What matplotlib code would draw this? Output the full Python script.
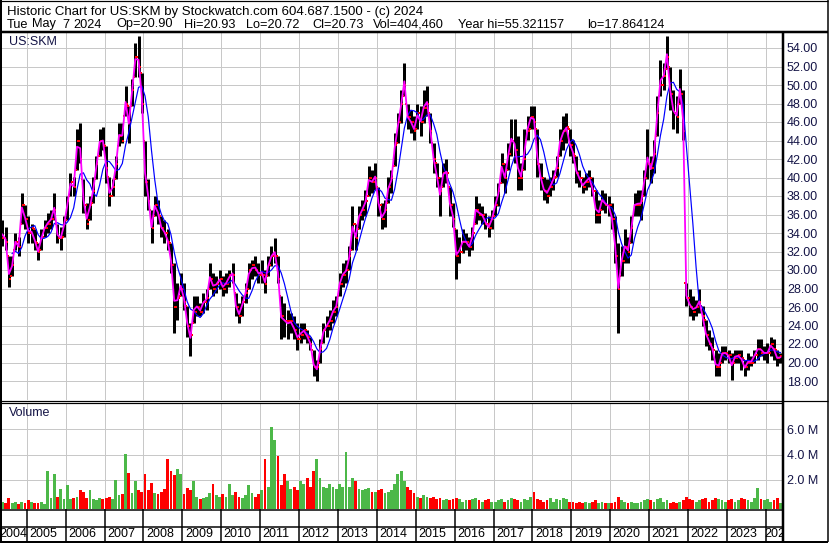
import numpy as np
import pandas as pd
import matplotlib
matplotlib.use("Agg")
import matplotlib.pyplot as plt

plt.rcParams['font.family'] = ['Liberation Sans', 'DejaVu Sans']

# monthly bars, May 2004 .. May 2024
high = [
    35.4, 34.7, 31.5, 31.5, 34.0, 33.6, 38.3, 37.0,                     # 2004
    35.8, 35.0, 34.4, 32.9, 34.4, 35.4, 36.2, 36.5, 38.3, 35.0, 34.7, 35.8,  # 2005
    38.0, 40.5, 40.1, 45.2, 45.9, 39.8, 37.2, 38.0, 40.1, 42.3, 45.2, 45.5,  # 2006
    43.4, 40.1, 39.8, 42.3, 45.9, 45.9, 49.9, 47.7, 50.6, 54.5, 55.3, 51.3,  # 2007
    44.0, 39.8, 36.5, 38.0, 37.6, 35.8, 35.4, 34.4, 32.9, 30.8, 28.6, 29.7,  # 2008
    28.6, 26.1, 24.3, 27.2, 27.2, 26.4, 27.5, 27.9, 30.8, 29.7, 29.3, 30.0,  # 2009
    29.3, 29.7, 30.0, 30.8, 27.5, 26.4, 27.2, 28.6, 30.8, 31.1, 31.5, 30.8,  # 2010
    31.1, 30.0, 31.5, 32.6, 33.5, 31.5, 27.2, 26.4, 25.7, 25.4, 25.0, 24.3,  # 2011
    24.3, 24.3, 23.5, 22.8, 21.4, 20.3, 22.5, 24.3, 25.0, 25.7, 26.8, 27.2,  # 2012
    29.7, 30.8, 31.1, 32.6, 36.9, 35.0, 36.9, 37.6, 38.7, 41.2, 40.8, 41.6,  # 2013
    39.0, 37.2, 37.6, 40.1, 40.8, 44.8, 47.0, 49.5, 52.4, 48.0, 47.3, 46.6,  # 2014
    48.0, 47.7, 49.5, 49.9, 47.0, 43.7, 41.6, 40.1, 41.6, 42.0, 39.0, 37.2,  # 2015
    34.4, 33.6, 34.4, 34.0, 33.6, 34.7, 38.0, 37.2, 36.9, 36.2, 35.8, 36.5,  # 2016
    38.0, 39.4, 42.6, 41.6, 43.7, 46.3, 46.3, 44.5, 41.6, 45.2, 46.6, 47.7,  # 2017
    47.7, 45.2, 41.6, 40.1, 39.8, 40.1, 40.8, 42.3, 45.2, 46.6, 47.0, 45.2,  # 2018
    44.1, 42.3, 40.8, 40.1, 40.5, 40.8, 40.1, 38.7, 37.6, 38.7, 38.3, 38.0,  # 2019
    37.2, 35.8, 32.9, 32.6, 34.4, 33.6, 35.8, 38.3, 38.7, 38.7, 40.8, 45.2,  # 2020
    42.3, 44.1, 48.8, 52.7, 52.4, 55.3, 52.0, 49.5, 48.8, 51.7, 49.5, 28.6,  # 2021
    27.9, 27.2, 26.8, 27.9, 26.1, 24.6, 23.5, 22.8, 21.4, 21.0, 21.8, 21.8,  # 2022
    21.4, 21.0, 21.4, 21.4, 21.4, 20.3, 21.0, 20.7, 21.4, 22.5, 22.5, 21.8,  # 2023
    22.1, 22.8, 22.5, 21.4, 21.0,                                         # 2024
]
low = [
    32.6, 32.2, 28.2, 29.3, 32.2, 31.5, 35.0, 34.4,
    32.9, 32.9, 32.2, 31.1, 32.2, 33.6, 34.0, 34.4, 35.4, 32.9, 32.2, 33.6,
    35.4, 38.0, 38.0, 40.8, 41.6, 36.2, 34.4, 35.4, 37.2, 39.8, 42.3, 43.0,
    39.4, 36.9, 38.0, 39.8, 43.4, 43.7, 46.6, 43.7, 47.7, 50.9, 50.9, 47.0,
    38.0, 36.5, 32.9, 35.8, 35.0, 33.6, 32.9, 32.2, 29.7, 23.2, 24.6, 27.2,
    25.7, 22.8, 20.7, 24.3, 25.0, 25.0, 25.4, 25.7, 27.9, 27.2, 27.5, 27.9,
    27.2, 27.5, 28.2, 28.6, 25.0, 24.3, 25.0, 26.4, 27.9, 29.0, 29.3, 28.6,
    28.6, 27.5, 29.3, 30.4, 30.8, 28.6, 22.5, 22.8, 22.5, 23.2, 22.5, 21.4,
    22.1, 22.5, 22.1, 21.4, 18.5, 18.0, 20.0, 22.1, 22.8, 23.5, 24.3, 25.0,
    27.2, 28.2, 28.6, 30.0, 32.2, 32.2, 34.4, 35.4, 35.8, 38.0, 38.3, 38.7,
    35.8, 34.4, 34.7, 37.2, 38.3, 41.2, 43.7, 45.9, 48.8, 45.2, 44.8, 44.1,
    45.2, 44.5, 45.9, 46.6, 43.7, 40.5, 39.0, 35.8, 39.0, 39.4, 35.8, 34.7,
    29.0, 30.8, 31.8, 32.2, 31.5, 32.2, 35.0, 35.4, 35.0, 34.4, 33.6, 34.4,
    35.8, 36.9, 39.4, 38.3, 40.8, 42.3, 41.6, 38.7, 38.7, 40.8, 44.1, 45.2,
    45.2, 40.1, 38.7, 37.6, 37.2, 38.0, 38.7, 40.1, 42.3, 43.0, 43.7, 42.3,
    41.6, 39.4, 39.0, 38.3, 38.7, 39.0, 38.0, 35.1, 35.1, 36.5, 36.2, 35.8,
    34.4, 30.8, 23.2, 29.3, 30.8, 30.8, 32.9, 35.8, 35.8, 35.4, 38.0, 39.8,
    39.4, 40.5, 44.5, 48.8, 49.5, 51.7, 47.3, 45.2, 44.8, 48.0, 44.1, 26.1,
    25.0, 24.6, 25.0, 25.4, 23.9, 21.8, 21.4, 20.3, 18.5, 18.5, 20.0, 20.3,
    20.0, 18.1, 20.0, 20.0, 19.2, 18.5, 19.2, 19.6, 20.0, 20.3, 20.7, 20.3,
    20.0, 20.7, 20.3, 19.6, 20.0,
]
close = [
    33.5, 33.0, 29.0, 30.5, 33.0, 32.5, 37.0, 35.5,
    34.0, 34.5, 33.0, 32.0, 33.5, 34.5, 35.0, 35.5, 36.5, 33.5, 33.5, 35.0,
    37.5, 39.5, 39.0, 44.0, 42.0, 37.0, 35.0, 37.0, 38.5, 41.5, 44.0, 43.5,
    41.0, 38.0, 39.0, 41.5, 44.5, 44.0, 48.0, 46.0, 49.5, 53.0, 52.0, 48.0,
    39.5, 37.5, 34.5, 37.0, 36.0, 34.5, 34.0, 33.0, 30.5, 26.0, 27.0, 28.0,
    26.5, 24.0, 23.0, 25.5, 26.0, 25.5, 26.5, 27.0, 29.0, 28.0, 28.5, 29.0,
    28.0, 28.5, 29.5, 29.5, 26.0, 25.0, 26.5, 27.5, 30.0, 30.5, 30.0, 29.5,
    29.5, 28.5, 30.5, 31.5, 31.5, 29.0, 25.0, 24.5, 24.5, 24.5, 23.5, 22.5,
    23.0, 23.5, 23.0, 22.0, 19.5, 19.5, 21.5, 23.5, 24.0, 24.5, 25.5, 26.0,
    28.5, 29.5, 30.0, 31.5, 35.0, 33.5, 36.0, 36.5, 37.5, 40.0, 39.5, 40.0,
    37.0, 35.5, 36.5, 39.0, 40.0, 43.5, 46.0, 48.0, 50.0, 46.5, 46.0, 45.0,
    47.0, 46.0, 47.5, 48.0, 45.0, 42.0, 40.0, 38.5, 40.5, 40.5, 37.0, 35.5,
    31.5, 32.0, 33.0, 33.0, 32.5, 34.0, 36.5, 36.0, 36.0, 35.0, 34.5, 35.5,
    37.0, 38.5, 41.5, 40.0, 42.5, 44.0, 43.0, 40.0, 40.0, 42.0, 45.0, 46.5,
    46.0, 41.5, 40.0, 38.5, 38.0, 39.0, 40.0, 41.0, 44.0, 45.0, 45.5, 43.5,
    42.5, 40.5, 40.0, 39.0, 39.5, 40.0, 38.5, 36.0, 36.0, 37.5, 37.0, 37.0,
    35.5, 31.5, 28.0, 31.0, 32.5, 32.0, 34.5, 37.0, 37.0, 37.5, 40.0, 41.5,
    41.0, 42.5, 47.0, 50.0, 51.0, 53.0, 49.0, 47.0, 46.5, 49.0, 45.0, 27.0,
    26.0, 25.5, 26.0, 26.5, 25.0, 23.0, 22.0, 21.5, 19.5, 19.5, 21.0, 21.0,
    20.8, 20.0, 20.5, 20.8, 20.5, 19.5, 20.0, 20.0, 20.8, 21.5, 21.0, 21.0,
    21.0, 22.0, 21.5, 20.5, 20.7,
]
# volume in millions of shares
volume_m = [
    0.6, 0.5, 0.9, 0.5, 0.6, 0.4, 0.6, 0.5,
    0.7, 0.6, 0.5, 0.5, 0.6, 0.4, 3.0, 0.9, 2.8, 1.0, 1.6, 0.8,
    1.9, 0.8, 0.9, 1.0, 1.5, 1.4, 0.9, 1.5, 0.8, 0.7, 0.9, 0.8,
    0.9, 1.0, 0.8, 2.3, 1.1, 1.2, 4.4, 2.9, 1.3, 2.2, 1.5, 1.4,
    2.8, 1.5, 2.1, 1.3, 1.2, 1.4, 1.6, 4.0, 3.0, 2.7, 3.2, 2.8,
    1.2, 1.7, 1.5, 2.2, 1.0, 0.8, 0.9, 1.0, 1.3, 2.0, 1.1, 1.0,
    1.2, 1.0, 2.0, 1.1, 1.4, 1.0, 0.9, 1.1, 1.9, 1.3, 1.0, 1.2,
    1.5, 4.0, 1.8, 6.5, 5.5, 4.2, 1.9, 2.8, 2.2, 1.6, 1.8, 1.5,
    2.2, 2.0, 2.5, 1.8, 3.0, 4.0, 2.5, 1.8, 1.7, 2.0, 1.8, 1.6,
    2.0, 1.8, 4.5, 1.8, 2.5, 2.2, 1.6, 1.5, 1.6, 1.7, 1.4, 1.4,
    1.5, 1.6, 1.3, 1.4, 1.5, 2.0, 2.8, 3.0, 2.2, 1.8, 1.5, 1.3,
    1.0, 0.9, 1.1, 1.0, 0.9, 1.0, 0.8, 0.9, 0.7, 0.8, 0.7, 0.8,
    0.9, 0.8, 0.6, 0.7, 0.7, 0.8, 0.9, 0.7, 0.6, 0.7, 0.8, 0.6,
    0.6, 0.7, 0.8, 0.6, 0.7, 0.9, 0.8, 0.7, 0.6, 0.8, 0.7, 1.0,
    1.4, 0.8, 0.7, 0.6, 0.7, 0.9, 0.6, 0.8, 0.7, 0.9, 0.8, 0.6,
    0.6, 0.5, 0.6, 0.5, 0.6, 0.5, 0.6, 0.7, 0.5, 0.6, 0.5, 0.5,
    0.5, 0.6, 1.0, 0.7, 0.6, 0.5, 0.6, 0.5, 0.5, 0.6, 0.7, 0.8,
    0.7, 0.6, 0.8, 0.9, 0.6, 0.7, 0.5, 0.6, 0.5, 0.6, 0.7, 1.0,
    0.8, 0.7, 0.6, 0.7, 0.8, 0.9, 0.6, 0.7, 0.9, 0.8, 0.7, 0.6,
    0.7, 0.8, 0.6, 0.7, 0.9, 0.8, 0.7, 0.6, 0.9, 1.7, 0.8, 0.7,
    0.8, 0.6, 0.7, 0.9, 0.5,
]

years = list(range(2005, 2025))
year_labels = [str(y) for y in range(2004, 2025)]
price_ticks = list(range(18, 56, 2))
vol_ticks = [2, 4, 6]

header_line1 = "Historic Chart for US:SKM by Stockwatch.com 604.687.1500 - (c) 2024"
header_line2 = ["Tue", "May", "7", "2024", "Op=20.90", "Hi=20.93", "Lo=20.72",
                "Cl=20.73", "Vol=404,460", "Year hi=55.321157", "lo=17.864124"]

W, H = 830, 543
NAVY = "#141446"
GRID = "#c8c8c8"
GREEN = "#4cb848"


def fx(px):
    return px / W


def fy(py):
    return 1 - py / H


def lw(px):
    return px * 0.72


months = pd.date_range("2004-05-01", periods=len(close), freq="MS")
t = np.asarray(months.year + (months.month - 0.5) / 12.0)
h = np.array(high)
l = np.array(low)
c = np.array(close)
# open taken as the previous close, kept inside the bar
o = np.clip(np.r_[c[0], c[:-1]], l, h)
typical = pd.Series((h + l + c) / 3.0)
ma_short = typical
ma_long = typical.rolling(5, min_periods=4).mean()

x_left = 2005 - 24.7 / 38.9
x_right = 2005 + 755.3 / 38.9
px_year = 38.9

fig = plt.figure(figsize=(W / 100, H / 100), dpi=100)
fig.patch.set_facecolor("white")

# price panel
ax = fig.add_axes([fx(2), fy(400), fx(780), 368 / H])
ax.set_xlim(x_left, x_right)
ax.set_ylim(54 - 352 / 9.25, 54 + 16 / 9.25)
ax.set_xticks(years)
ax.set_yticks(price_ticks)
ax.set_yticklabels([f"{v:.2f}" for v in price_ticks])
ax.yaxis.tick_right()
ax.tick_params(axis="y", length=0, pad=3.6, labelsize=9, labelcolor=NAVY)
ax.tick_params(axis="x", length=0, labelbottom=False)
ax.grid(True, color=GRID, lw=lw(1))
ax.set_axisbelow(True)
for s in ax.spines.values():
    s.set_visible(False)

ax.vlines(t, l, h, color="black", lw=lw(3.0), zorder=2)
ax.plot(t + 1.1 / px_year, c, ls="none", marker="s", ms=1.6, mew=0, color="red", zorder=3)
ax.plot(t - 1.1 / px_year, o, ls="none", marker="s", ms=1.6, mew=0, color="red", zorder=3)
ax.plot(t, ma_long, color="#0000ff", lw=lw(1.2), zorder=4)
ax.plot(t, ma_short, color="#ff00ff", lw=lw(1.8), zorder=5)
ax.text(7 / 780, 1 - 10 / 368, "US:SKM", transform=ax.transAxes,
        fontsize=9, color=NAVY, va="center", ha="left")

# volume panel
ax2 = fig.add_axes([fx(2), fy(509.3), fx(780), 106.8 / H])
ax2.set_xlim(x_left, x_right)
ax2.set_ylim(-0.32, 8.12)
ax2.set_xticks(years)
ax2.set_yticks(vol_ticks)
ax2.set_yticklabels([f"{v:.1f} M" for v in vol_ticks])
ax2.yaxis.tick_right()
ax2.tick_params(axis="y", length=0, pad=3.6, labelsize=9, labelcolor=NAVY)
ax2.tick_params(axis="x", length=0, labelbottom=False)
ax2.grid(True, color=GRID, lw=lw(1))
ax2.set_axisbelow(True)
for s in ax2.spines.values():
    s.set_visible(False)

up = np.r_[True, c[1:] >= c[:-1]]
bar_colors = [GREEN if u else "red" for u in up]
ax2.bar(t, volume_m, bottom=-0.32, width=0.072, color=bar_colors, lw=0, zorder=2)
ax2.text(7 / 780, 1 - 11 / 106.8, "Volume", transform=ax2.transAxes,
         fontsize=9, color=NAVY, va="center", ha="left")

# year label strip
ax3 = fig.add_axes([fx(2), fy(541), fx(780), 31.7 / H])
ax3.set_xlim(x_left, x_right)
ax3.set_ylim(0, 1)
ax3.axis("off")
ax3.vlines(years, 0, 1, color="black", lw=lw(1.5))
for lab in year_labels:
    yr = int(lab)
    if yr == 2004:
        xpos = x_left - 3 / px_year
    elif yr == 2024:
        xpos = yr - 1.7 / px_year
    else:
        xpos = yr + 2.6 / px_year
    ax3.text(xpos, 0.22, lab, fontsize=9, color="black", va="center", ha="left",
             clip_on=True)

# frame lines and header
ax0 = fig.add_axes([0, 0, 1, 1], zorder=10)
ax0.set_xlim(0, W)
ax0.set_ylim(H, 0)
ax0.axis("off")


def seg(x0, y0, x1, y1, w):
    ax0.plot([x0, x1], [y0, y1], color="black", lw=lw(w), solid_capstyle="butt")


seg(1, 0, 1, 542, 2)
seg(0, 0.5, 828, 0.5, 1.2)
seg(827.5, 0, 827.5, 542, 1.5)
seg(0, 541.5, 828, 541.5, 2)
seg(0, 31.5, 828, 31.5, 2.5)
seg(783, 31, 783, 542, 2.5)
seg(0, 400.5, 828, 400.5, 1.2)
seg(0, 402.7, 783, 402.7, 1.2)
seg(0, 509.7, 783, 509.7, 1.5)
seg(0, 527, 783, 527, 1.5)

ax0.text(6.5, 15, header_line1, fontsize=9.5, va="baseline", ha="left")
line2_x = [6.7, 32, 62, 73, 116, 184.3, 246, 312.3, 373.3, 457.7, 586.7]
for s, xp in zip(header_line2, line2_x):
    ax0.text(xp, 27.5, s, fontsize=9.2, va="baseline", ha="left")

fig.savefig("out.png", dpi=100)
